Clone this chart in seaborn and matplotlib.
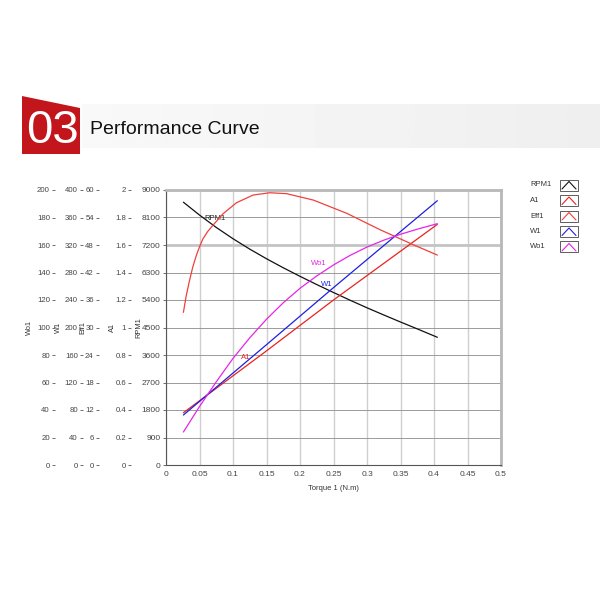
import numpy as np
import pandas as pd
import seaborn as sns
import matplotlib.pyplot as plt
from matplotlib.patches import Polygon, Rectangle
from matplotlib.lines import Line2D
from matplotlib.ticker import FuncFormatter, MultipleLocator

# readings, torque in N.m
rpm_torque = [0.026, 0.05, 0.075, 0.1, 0.125, 0.15, 0.175, 0.2, 0.225, 0.25,
              0.275, 0.3, 0.325, 0.35, 0.375, 0.405]
rpm_values = [8600, 8180, 7775, 7405, 7065, 6750, 6455, 6175, 5905, 5645,
              5390, 5145, 4910, 4680, 4455, 4180]

a1_torque = [0.026, 0.15, 0.25, 0.405]
a1_values = [0.38, 0.83, 1.20, 1.75]

eff_torque = [0.026, 0.03, 0.035, 0.04, 0.045, 0.05, 0.055, 0.062, 0.07, 0.085, 0.105,
              0.13, 0.155, 0.18, 0.22, 0.27, 0.32, 0.37, 0.405]
eff_values = [33.3, 36.8, 40.2, 43.2, 45.6, 47.6, 49.3, 50.9, 52.3, 54.8, 57.2,
              58.9, 59.4, 59.2, 57.8, 54.9, 51.3, 48.0, 45.8]

w1_torque = [0.026, 0.15, 0.25, 0.405]
w1_values = [72.7, 175.0, 258.0, 384.4]

wo1_torque = [0.026, 0.05, 0.075, 0.1, 0.125, 0.15, 0.175, 0.2, 0.225, 0.25,
              0.275, 0.3, 0.325, 0.35, 0.375, 0.405]
wo1_values = [24.0, 42.5, 60.5, 77.5, 92.5, 106.0, 118.0, 128.5, 137.5, 145.5,
              152.5, 158.5, 163.5, 167.8, 171.5, 175.5]

sns.set_style("white")
plt.rcParams['font.family'] = ['Liberation Sans', 'DejaVu Sans']

fig = plt.figure(figsize=(6, 6), dpi=100)

# header banner
hdr = fig.add_axes([82 / 600, 1 - 148 / 600, 518 / 600, 44 / 600])
grad = np.linspace(0.975, 0.935, 256).reshape(1, -1)
hdr.imshow(grad, aspect='auto', cmap='gray', vmin=0, vmax=1, extent=[0, 1, 0, 1])
hdr.axis('off')
red_box = Polygon([(22 / 600, 1 - 96 / 600), (80 / 600, 1 - 108 / 600),
                   (80 / 600, 1 - 154 / 600), (22 / 600, 1 - 154 / 600)],
                  closed=True, transform=fig.transFigure, facecolor='#c3161c',
                  edgecolor='none')
fig.patches.append(red_box)
fig.text(52 / 600, 1 - 131 / 600, "03", color='white', fontsize=34,
         ha='center', va='center')
fig.text(90 / 600, 1 - 130 / 600, "Performance Curve", color='#111111',
         fontsize=14, ha='left', va='center')

# main axes (RPM1)
ax = fig.add_axes([166 / 600, 135 / 600, 335 / 600, 275 / 600])
ax.set_xlim(0, 0.5)
ax.set_ylim(0, 9000)
ax.xaxis.set_major_locator(MultipleLocator(0.05))
ax.yaxis.set_major_locator(MultipleLocator(900))
ax.xaxis.set_major_formatter(FuncFormatter(lambda v, p: f"{v:g}"))
ax.yaxis.set_major_formatter(FuncFormatter(lambda v, p: f"{v:g}"))
ax.grid(axis='y', color='#9a9a9a', linewidth=0.7)
ax.grid(axis='x', color='#cfcfcf', linewidth=1.0)
ax.set_axisbelow(True)
for sp in ['top', 'right']:
    ax.spines[sp].set_color('#b8b8b8')
    ax.spines[sp].set_linewidth(2.0)
for sp in ['left', 'bottom']:
    ax.spines[sp].set_color('#555555')
    ax.spines[sp].set_linewidth(0.8)
ax.tick_params(axis='both', labelsize=6, labelcolor='#444444', length=2.5,
               width=0.6, color='#555555', pad=1.5)

series = [
    # name, torque, values, top, step, spine pos, label pos, color
    ("RPM1", rpm_torque, rpm_values, 9000, 900, None, -0.072, '#111111'),
    ("A1", a1_torque, a1_values, 2, 0.2, -0.104, -0.150, '#e8231e'),
    ("Eff1", eff_torque, eff_values, 60, 6, -0.200, -0.238, '#f0403c'),
    ("W1", w1_torque, w1_values, 400, 40, -0.248, -0.312, '#1f1fe0'),
    ("Wo1", wo1_torque, wo1_values, 200, 20, -0.331, -0.397, '#e526e5'),
]

for name, tq, vals, top, step, pos, lpos, color in series:
    if pos is None:
        a = ax
    else:
        a = ax.twinx()
        a.yaxis.set_ticks_position('left')
        a.yaxis.set_label_position('left')
        a.spines['left'].set_position(('axes', pos))
        for sp in a.spines.values():
            sp.set_visible(False)
        a.set_ylim(0, top)
        a.yaxis.set_major_locator(MultipleLocator(step))
        a.yaxis.set_major_formatter(FuncFormatter(lambda v, p: f"{v:g}"))
        a.tick_params(axis='y', labelsize=5.6, labelcolor='#444444', length=2.5,
                      width=0.6, color='#555555', pad=1.2)
        a.grid(False)
    df = pd.DataFrame({"torque": tq, name: vals})
    sns.lineplot(data=df, x="torque", y=name, ax=a, color=color,
                 linewidth=0.9, legend=False)
    a.set_ylabel(name, fontsize=5.3, color='#333333')
    a.yaxis.set_label_coords(lpos, 0.5)

ax.set_xlim(0, 0.5)
ax.set_xlabel("Torque 1 (N.m)", fontsize=5.5, color='#333333', labelpad=5)

# thicker light grid line at 8100 as in the reference
ax.yaxis.get_gridlines()[9].set_linewidth(2.0)
ax.yaxis.get_gridlines()[9].set_color('#c4c4c4')

# curve labels
ax.text(0.058, 8080, "RPM1", fontsize=5.5, color='#222222', va='center')
ax.text(0.217, 6580, "Wo1", fontsize=5.5, color='#e526e5', va='center')
ax.text(0.231, 5910, "W1", fontsize=5.5, color='#1f1fe0', va='center')
ax.text(0.112, 3520, "A1", fontsize=5.5, color='#e8231e', va='center')

# legend drawn at right side
row_y = 185
for name, tq, vals, top, step, pos, lpos, color in series:
    yc = 1 - row_y / 600
    fig.text(530 / 600, yc, name, fontsize=5.5, color='#333333', va='center')
    fig.patches.append(Rectangle((560 / 600, yc - 5.5 / 600), 18 / 600, 11 / 600,
                                 transform=fig.transFigure, facecolor='white',
                                 edgecolor='#444444', linewidth=0.6))
    fig.lines.append(Line2D([562 / 600, 569 / 600, 576 / 600],
                            [yc - 4 / 600, yc + 3.5 / 600, yc - 4 / 600],
                            transform=fig.transFigure, color=color, linewidth=0.8))
    row_y += 15.5

fig.savefig("out.png", dpi=100)
